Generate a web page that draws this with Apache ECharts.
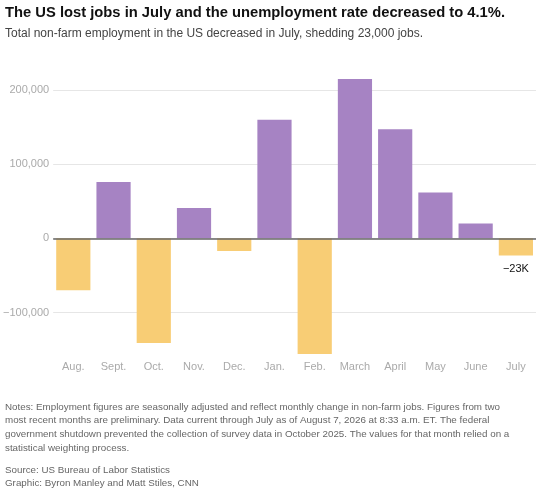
<!DOCTYPE html>
<html>
<head>
<meta charset="utf-8">
<script src="https://cdn.jsdelivr.net/npm/echarts@6/dist/echarts.min.js"></script>
<style>
  html, body { margin: 0; padding: 0; background: #fff; }
  #chart { width: 550px; height: 492px; }
</style>
</head>
<body>
<div id="chart"></div>
<script>
// 月份和每月新增就业（人）
const months = ['Aug.', 'Sept.', 'Oct.', 'Nov.', 'Dec.', 'Jan.', 'Feb.', 'March', 'April', 'May', 'June', 'July'];
const jobChange = [-70000, 76000, -141000, 41000, -17000, 160000, -156000, 215000, 147000, 62000, 20000, -23000];
const yTicks = [-100000, 0, 100000, 200000];

const FONT = '"Liberation Sans", Arial, sans-serif';
const PURPLE = '#a683c3';
const YELLOW = '#f8cd75';

const noteLines = [
  'Notes: Employment figures are seasonally adjusted and reflect monthly change in non-farm jobs. Figures from two',
  'most recent months are preliminary. Data current through July as of August 7, 2026 at 8:33 a.m. ET. The federal',
  'government shutdown prevented the collection of survey data in October 2025. The values for that month relied on a',
  'statistical weighting process.'
];
const creditLines = [
  'Source: US Bureau of Labor Statistics',
  'Graphic: Byron Manley and Matt Stiles, CNN'
];

function fmtTick(v) {
  if (yTicks.indexOf(v) < 0) return '';
  const s = Math.abs(v).toLocaleString('en-US');
  return v < 0 ? '\u2212' + s : s;
}

const chart = echarts.init(document.getElementById('chart'));

chart.setOption({
  backgroundColor: '#fff',
  animation: false,
  title: [
    {
      text: 'The US lost jobs in July and the unemployment rate decreased to 4.1%.',
      left: 5, top: 5, padding: 0,
      textStyle: { fontFamily: FONT, fontSize: 14.75, fontWeight: 'bold', color: '#111' }
    },
    {
      text: 'Total non-farm employment in the US decreased in July, shedding 23,000 jobs.',
      left: 5, top: 28, padding: 0,
      textStyle: { fontFamily: FONT, fontSize: 12, fontWeight: 'normal', color: '#444' }
    },
    {
      text: noteLines.join('\n'),
      left: 5, top: 400, padding: 0,
      textStyle: { fontFamily: FONT, fontSize: 9.8, fontWeight: 'normal', color: '#666', lineHeight: 13.7 }
    },
    {
      text: creditLines.join('\n'),
      left: 5, top: 463, padding: 0,
      textStyle: { fontFamily: FONT, fontSize: 9.8, fontWeight: 'normal', color: '#666', lineHeight: 13.7 }
    }
  ],
  grid: { left: 53, right: 14, top: 67.8, bottom: 492 - 357, containLabel: false },
  xAxis: {
    type: 'category',
    data: months,
    axisLine: { show: false },
    axisTick: { show: false },
    axisLabel: { color: '#aaa', fontFamily: FONT, fontSize: 11, margin: 4 }
  },
  yAxis: {
    type: 'value',
    min: -160000,
    max: 230000,
    minInterval: 100000,
    maxInterval: 100000,
    axisLine: { show: false },
    axisTick: { show: false },
    axisLabel: {
      color: '#aaa', fontFamily: FONT, fontSize: 11, margin: 4,
      showMinLabel: false, showMaxLabel: false,
      formatter: fmtTick
    },
    splitLine: {
      showMinLine: false, showMaxLine: false,
      lineStyle: { color: '#e6e6e6', width: 1 }
    }
  },
  series: [{
    type: 'bar',
    barWidth: '85%',
    data: jobChange.map((v, i) => ({
      value: v,
      itemStyle: { color: v < 0 ? YELLOW : PURPLE },
      label: i === jobChange.length - 1 ? {
        show: true, position: 'bottom', distance: 8,
        formatter: '\u221223K', color: '#111', fontFamily: FONT, fontSize: 11
      } : { show: false }
    })),
    markLine: {
      silent: true,
      symbol: 'none',
      label: { show: false },
      lineStyle: { color: '#666', width: 1.5, type: 'solid' },
      data: [{ yAxis: 0 }]
    }
  }]
});
</script>
</body>
</html>
